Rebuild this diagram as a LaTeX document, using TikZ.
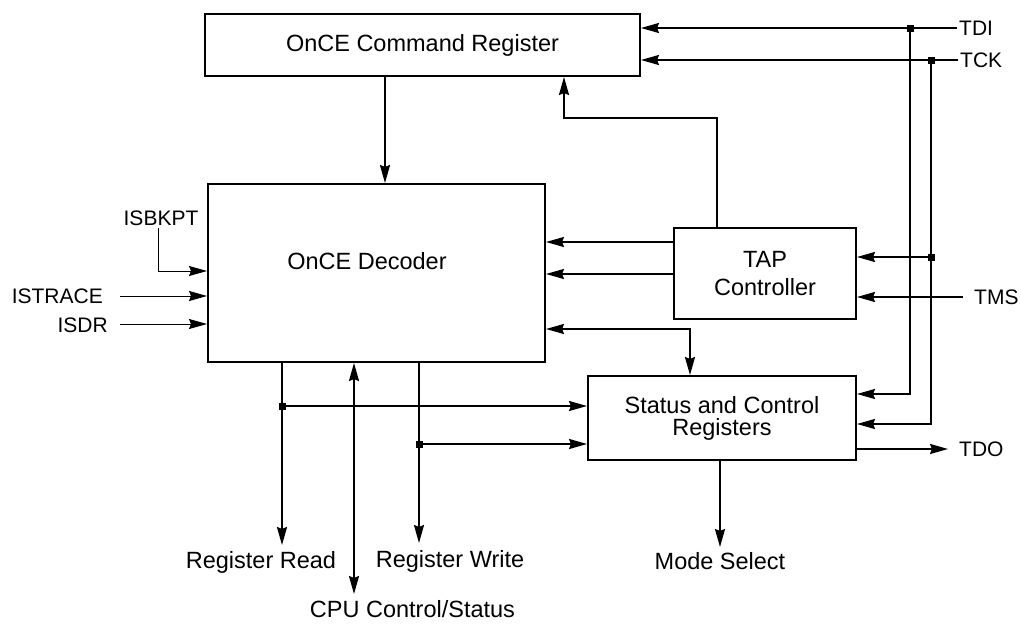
\documentclass[tikz,border=0pt]{standalone}
\usepackage{fontspec}
\setmainfont{Liberation Sans}
\usetikzlibrary{arrows.meta}
\begin{document}
\begin{tikzpicture}[x=1pt,y=-1pt,
  box/.style={draw,line width=2pt,inner sep=0pt,align=center,font=\fontsize{23.5}{22}\selectfont},
  tip/.tip={Stealth[length=18pt,width=10pt,inset=2pt]},
  arr/.style={line width=2pt,-tip},
  arrb/.style={line width=2pt,tip-tip},
  thinarr/.style={line width=1pt,-tip},
  pin/.style={font=\fontsize{21}{24}\selectfont,inner sep=0pt},
  lbl/.style={font=\fontsize{23.5}{26}\selectfont,inner sep=0pt,anchor=base},
  jdot/.style={fill,minimum size=7pt,inner sep=0pt,shape=rectangle}
]
\useasboundingbox (0,0) rectangle (1021,624);

% boxes
\node[box,minimum width=435pt,minimum height=62pt] (cmd) at (422.5,45) {OnCE Command Register};
\node[box,minimum width=337pt,minimum height=178pt] (dec) at (376.5,273) {};
\node[font=\fontsize{23.5}{26}\selectfont,inner sep=0pt] (dectxt) at (367,261) {OnCE Decoder};
\node[box,minimum width=182pt,minimum height=91pt,font=\fontsize{23.5}{28}\selectfont] (tap) at (765,273.5) {TAP\\Controller};
\node[box,minimum width=268pt,minimum height=84pt] (stat) at (722,418) {Status and Control\\Registers};

% pin labels
\node[pin,anchor=west] (tdi) at (959,28) {TDI};
\node[pin,anchor=west] (tck) at (960,60) {TCK};
\node[pin,anchor=west] (tms) at (974,297) {TMS};
\node[pin,anchor=west] (tdo) at (959,449) {TDO};
\node[pin] (isbkpt) at (161,218) {ISBKPT};
\node[pin,anchor=east] (istrace) at (103,296) {ISTRACE};
\node[pin,anchor=east] (isdr) at (108,325) {ISDR};

% bottom labels
\node[lbl] (rr) at (261,568) {Register Read};
\node[lbl] (rw) at (450,567) {Register Write};
\node[lbl] (cpu) at (412.5,617) {CPU Control/Status};
\node[lbl] (mode) at (720,569) {Mode Select};

% junction dots
\node[jdot] (jtdi) at (910,28) {};
\node[jdot] (jtck) at (931,60) {};
\node[jdot] (jtap) at (931,257) {};
\node[jdot] (jrr) at (282,406) {};
\node[jdot] (jrw) at (419,444) {};

% free ends
\coordinate (tdiE) at (957,28);
\coordinate (tckE) at (958,60);
\coordinate (tmsE) at (963,297);
\coordinate (tdoE) at (948,449);
\coordinate (bend) at (564,118);
\coordinate (rrE) at (282,545);
\coordinate (rwE) at (419,543);
\coordinate (cpuE) at (354,594);
\coordinate (modeE) at (720,547);
\coordinate (bkS) at (158,228);
\coordinate (trS) at (120,296);
\coordinate (drS) at (120,324);

% top inputs
\draw[arr] (tdiE) -- (tdiE -| cmd.east);
\draw[arr] (tckE) -- (tckE -| cmd.east);
\draw[arr] (jtdi.center) |- (stat.east |- 0,394);
\draw[arr] (jtck.center) |- (stat.east |- 0,424);
\draw[arr] (jtap.center) -- (jtap -| tap.east);
\draw[arr] (tmsE) -- (tmsE -| tap.east);
\draw[arr] (tdoE -| stat.east) -- (tdoE);

% command register <-> decoder / TAP
\draw[arr] (cmd.south -| 385,0) -- (dec.north -| 385,0);
\draw[arr] (tap.north -| 717,0) |- (bend) -- (cmd.south -| bend);
\draw[arr] (tap.west |- 0,242) -- (dec.east |- 0,242);
\draw[arr] (tap.west |- 0,274) -- (dec.east |- 0,274);
\draw[arrb] (dec.east |- 0,329) -| (stat.north -| 690,0);

% outputs
\draw[arr] (stat.south -| modeE) -- (modeE);
\draw[arr] (dec.south -| rrE) -- (rrE);
\draw[arr] (dec.south -| rwE) -- (rwE);
\draw[arrb] (dec.south -| cpuE) -- (cpuE);
\draw[arr] (jrr.center) -- (jrr -| stat.west);
\draw[arr] (jrw.center) -- (jrw -| stat.west);

% left inputs
\draw[thinarr] (bkS) |- (dec.west |- 0,271);
\draw[thinarr] (trS) -- (dec.west |- trS);
\draw[thinarr] (drS) -- (dec.west |- drS);
\end{tikzpicture}
\end{document}
